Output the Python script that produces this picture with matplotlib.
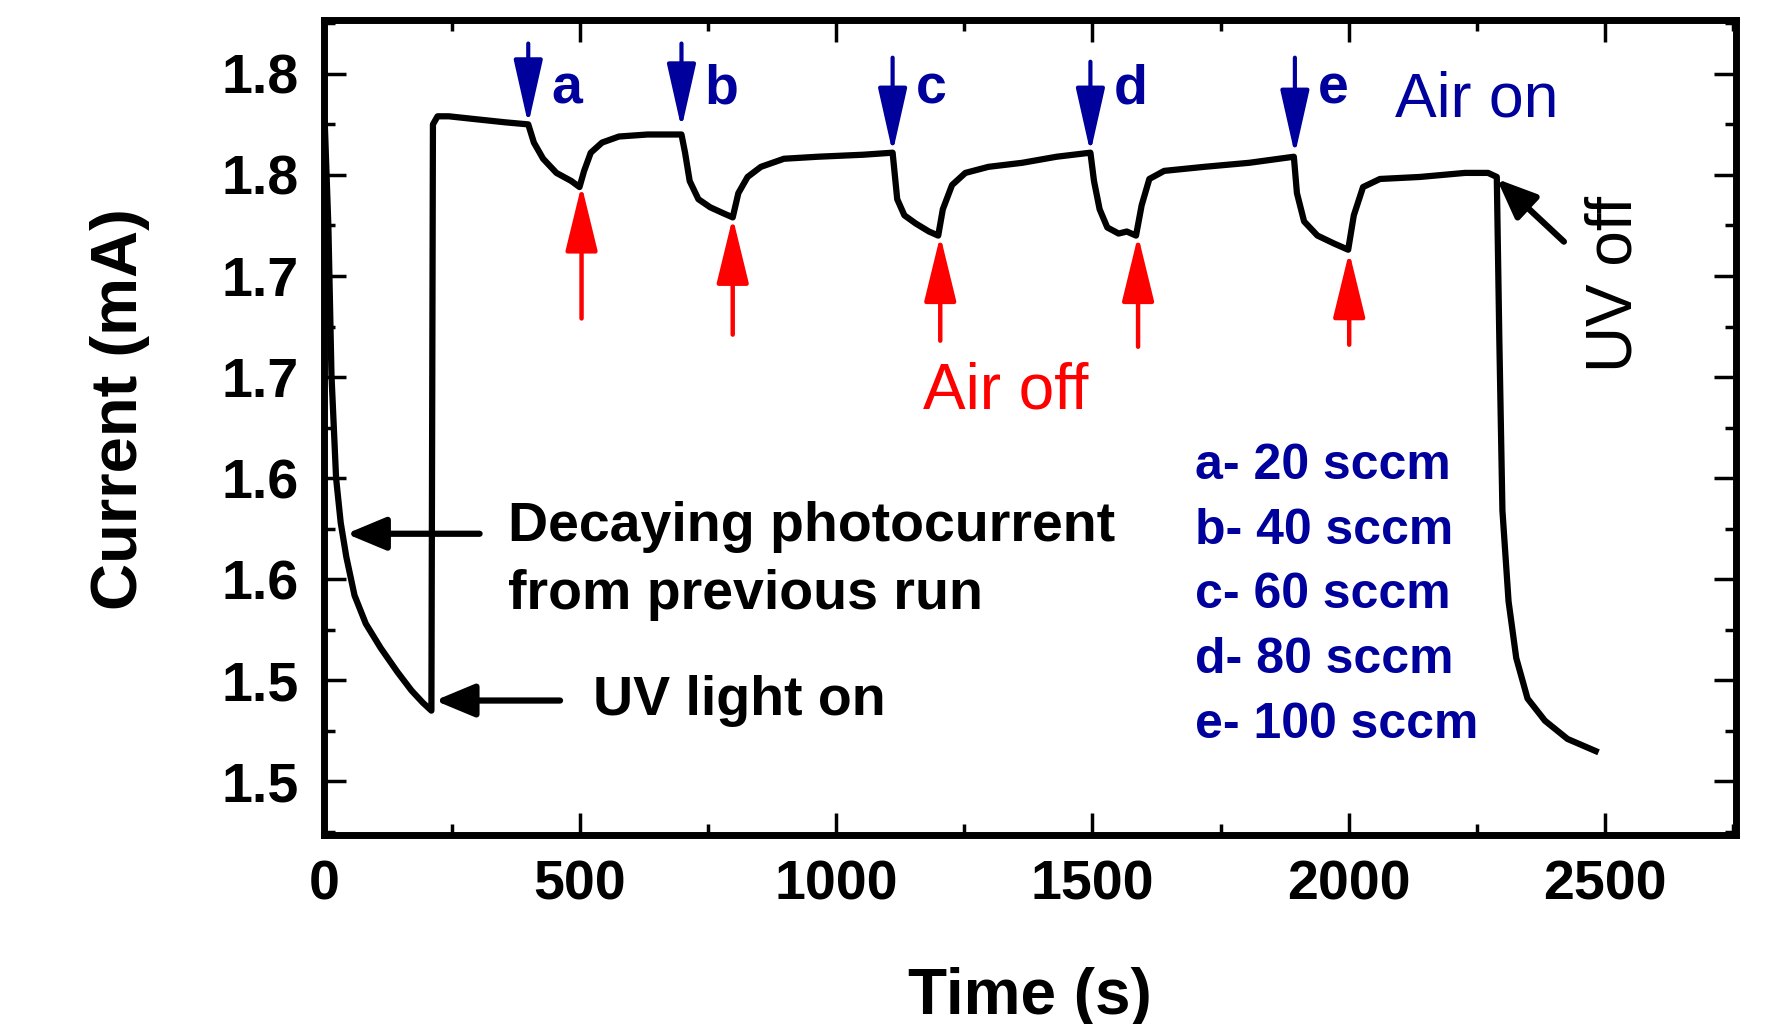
import matplotlib.pyplot as plt
from matplotlib.ticker import MultipleLocator

plt.rcParams['font.family'] = ['Liberation Sans', 'DejaVu Sans']

NAVY = '#00009C'
RED = '#FF0000'

# photocurrent trace (time in s, current in mA)
time = [2, 9, 15, 24, 33, 44, 60, 82, 111, 144, 171, 193, 210,
        213, 222, 244, 299, 355, 399,
        410, 428, 454, 483, 499,
        508, 521, 543, 576, 632, 698,
        705, 714, 731, 754, 780, 798,
        809, 827, 853, 898, 964, 1053, 1110,
        1119, 1133, 1155, 1181, 1199,
        1208, 1226, 1252, 1297, 1363, 1430, 1496,
        1503, 1514, 1529, 1551, 1567, 1585,
        1596, 1611, 1640, 1718, 1806, 1893,
        1899, 1913, 1939, 1972, 1999,
        2010, 2028, 2061, 2139, 2227, 2272, 2289,
        2294, 2300, 2312, 2327, 2349, 2383, 2427, 2482]
current = [1.825, 1.774, 1.701, 1.650, 1.628, 1.611, 1.592, 1.578, 1.566, 1.554, 1.545, 1.539, 1.535,
           1.825, 1.829, 1.829, 1.8275, 1.826, 1.825,
           1.816, 1.808, 1.801, 1.797, 1.794,
           1.802, 1.811, 1.816, 1.819, 1.820, 1.820,
           1.811, 1.797, 1.788, 1.784, 1.781, 1.779,
           1.791, 1.799, 1.804, 1.808, 1.809, 1.810, 1.811,
           1.788, 1.780, 1.776, 1.772, 1.770,
           1.783, 1.795, 1.801, 1.804, 1.806, 1.809, 1.811,
           1.797, 1.783, 1.774, 1.771, 1.772, 1.770,
           1.785, 1.798, 1.802, 1.804, 1.806, 1.809,
           1.791, 1.777, 1.770, 1.766, 1.763,
           1.780, 1.794, 1.798, 1.799, 1.801, 1.801, 1.799,
           1.718, 1.634, 1.589, 1.561, 1.541, 1.530, 1.521, 1.515]

# air on / air off events
flow_labels = ['a', 'b', 'c', 'd', 'e']
flow_rates = [20, 40, 60, 80, 100]
on_t = [399, 698, 1110, 1496, 1895]
on_tip = [1.825, 1.823, 1.811, 1.811, 1.810]
on_tail = [1.865, 1.865, 1.858, 1.856, 1.858]
off_t = [503, 798, 1203, 1589, 2001]
off_tip = [1.795, 1.779, 1.770, 1.770, 1.762]
off_tail = [1.729, 1.721, 1.718, 1.715, 1.716]

yticks = [1.50, 1.55, 1.60, 1.65, 1.70, 1.75, 1.80, 1.85]
ytick_labels = ['1.5', '1.5', '1.6', '1.6', '1.7', '1.7', '1.8', '1.8']

fig = plt.figure(figsize=(17.81, 10.24), dpi=100)
ax = fig.add_axes([0.1818, 0.1848, 0.7927, 0.7952])

ax.plot(time, current, color='black', lw=4.5, solid_joinstyle='round')

for lab, t, tip, tail in zip(flow_labels, on_t, on_tip, on_tail):
    ax.annotate('', xy=(t, tip), xytext=(t, tail),
                arrowprops=dict(arrowstyle='-|>,head_length=2.0,head_width=0.45',
                                mutation_scale=20, color=NAVY, lw=3,
                                shrinkA=0, shrinkB=0))
    ax.text(t + 45, 1.8425, lab, color=NAVY, fontsize=40, fontweight='bold',
            ha='left', va='center')

for t, tip, tail in zip(off_t, off_tip, off_tail):
    ax.annotate('', xy=(t, tip), xytext=(t, tail),
                arrowprops=dict(arrowstyle='-|>,head_length=2.05,head_width=0.5',
                                mutation_scale=20, color=RED, lw=3.2,
                                shrinkA=0, shrinkB=0))

ax.text(2250, 1.837, 'Air on', color=NAVY, fontsize=45, ha='center', va='center')
ax.text(1330, 1.693, 'Air off', color=RED, fontsize=46, ha='center', va='center')
ax.text(2518, 1.746, 'UV off', color='black', fontsize=46, rotation=90,
        ha='center', va='center')

black_arrow = dict(arrowstyle='-|>,head_length=1.2,head_width=0.5',
                   mutation_scale=20, color='black', lw=4.5, shrinkA=0, shrinkB=0)
ax.annotate('', xy=(2289, 1.798), xytext=(2420, 1.767), arrowprops=black_arrow)
ax.annotate('', xy=(44, 1.6225), xytext=(304, 1.6225), arrowprops=black_arrow)
ax.annotate('', xy=(217, 1.540), xytext=(461, 1.540), arrowprops=black_arrow)

ax.text(359, 1.626, 'Decaying photocurrent', fontsize=40, fontweight='bold',
        ha='left', va='center')
ax.text(359, 1.592, 'from previous run', fontsize=40, fontweight='bold',
        ha='left', va='center')
ax.text(525, 1.540, 'UV light on', fontsize=40, fontweight='bold',
        ha='left', va='center')

legend_y = [1.656, 1.624, 1.592, 1.560, 1.528]
for lab, rate, y in zip(flow_labels, flow_rates, legend_y):
    ax.text(1700, y, f'{lab}- {rate} sccm', color=NAVY, fontsize=36,
            fontweight='bold', ha='left', va='center')

ax.set_xlim(0, 2755)
ax.set_ylim(1.4736, 1.8764)
ax.set_xticks([0, 500, 1000, 1500, 2000, 2500])
ax.xaxis.set_minor_locator(MultipleLocator(250))
ax.set_yticks(yticks)
ax.set_yticklabels(ytick_labels)
ax.yaxis.set_minor_locator(MultipleLocator(0.025))

ax.tick_params(which='both', direction='in', top=True, right=True, width=2.5)
ax.tick_params(which='major', length=16, labelsize=40, pad=18)
ax.tick_params(which='minor', length=8)
for lbl in ax.get_xticklabels() + ax.get_yticklabels():
    lbl.set_fontweight('bold')
for s in ax.spines.values():
    s.set_linewidth(5)

ax.set_xlabel('Time (s)', fontsize=46, fontweight='bold', labelpad=40)
ax.set_ylabel('Current (mA)', fontsize=47, fontweight='bold')
ax.yaxis.set_label_coords(-0.123, 0.523)

fig.savefig('out.png', dpi=100)
